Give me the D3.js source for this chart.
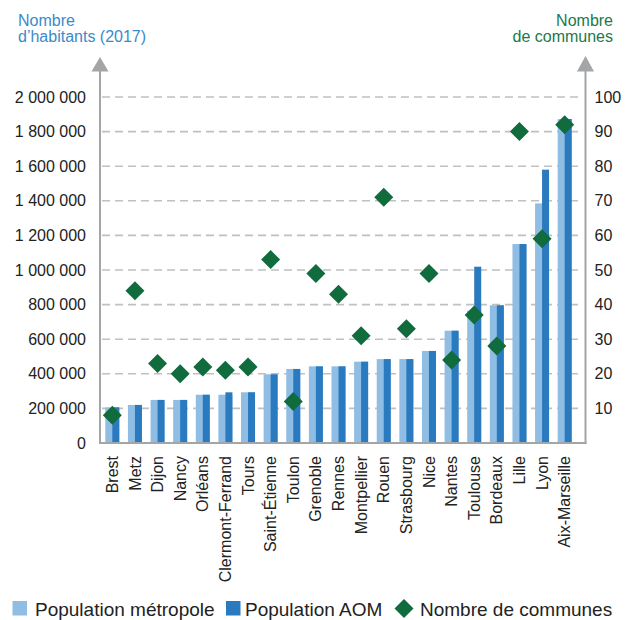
<!DOCTYPE html>
<html>
<head>
<meta charset="utf-8">
<script src="https://cdn.jsdelivr.net/npm/d3@7"></script>
<style>
  html, body { margin: 0; padding: 0; background: #fff; }
  svg { display: block; font-family: "Liberation Sans", Arial, sans-serif; }
</style>
</head>
<body>
<svg id="chart" width="629" height="620"></svg>
<script>
const cities = ["Brest", "Metz", "Dijon", "Nancy", "Orléans", "Clermont-Ferrand", "Tours",
  "Saint-Étienne", "Toulon", "Grenoble", "Rennes", "Montpellier", "Rouen", "Strasbourg",
  "Nice", "Nantes", "Toulouse", "Bordeaux", "Lille", "Lyon", "Aix-Marseille"];
const popMetropole = [206000, 220000, 249000, 249000, 279000, 279000, 293000, 397000, 428000,
  443000, 443000, 470000, 485000, 485000, 532000, 649000, 765000, 796000, 1150000, 1385000, 1873000];
const popAOM = [206000, 220000, 249000, 249000, 279000, 293000, 293000, 397000, 428000,
  443000, 443000, 470000, 485000, 485000, 532000, 649000, 1019000, 796000, 1150000, 1580000, 1873000];
const nbCommunes = [8, 44, 23, 20, 22, 21, 22, 53, 12, 49, 43, 31, 71, 33, 49, 24, 37, 28, 90, 59, 92];
const leftTicks = [0, 200000, 400000, 600000, 800000, 1000000, 1200000, 1400000, 1600000, 1800000, 2000000];
const rightTicks = [10, 20, 30, 40, 50, 60, 70, 80, 90, 100];
const seriesNames = ["Population métropole", "Population AOM", "Nombre de communes"];

const colLight = "#8fbde3", colDark = "#2a7abf", colGreen = "#106b3d";
const colAxis = "#a3a5a7", colGrid = "#bfc0c1";

const svg = d3.select("#chart");
svg.append("rect").attr("width", 629).attr("height", 620).attr("fill", "#fff");

const xLeft = 100, xRight = 585.5, yBottom = 443, yTop = 97;
const x = d3.scaleBand().domain(cities).range([101, 576]);
const yL = d3.scaleLinear().domain([0, 2000000]).range([yBottom, yTop]);
const yR = d3.scaleLinear().domain([0, 100]).range([yBottom, yTop]);
const fr = d3.formatLocale({ decimal: ",", thousands: " ", grouping: [3], currency: ["", ""] }).format(",d");

// gridlines
svg.append("g").selectAll("line").data(leftTicks.filter(d => d > 0)).join("line")
  .attr("x1", xLeft + 2).attr("x2", 580)
  .attr("y1", d => yL(d)).attr("y2", d => yL(d))
  .attr("stroke", colGrid).attr("stroke-width", 1.6).attr("stroke-dasharray", "8,5");

// bars
const cx = c => x(c) + x.bandwidth() / 2;
svg.append("g").selectAll("rect").data(cities).join("rect")
  .attr("x", d => cx(d) - 7).attr("width", 14)
  .attr("y", (d, i) => yL(popMetropole[i])).attr("height", (d, i) => yBottom - yL(popMetropole[i]))
  .attr("fill", colLight);
svg.append("g").selectAll("rect").data(cities).join("rect")
  .attr("x", d => cx(d)).attr("width", 7)
  .attr("y", (d, i) => yL(popAOM[i])).attr("height", (d, i) => yBottom - yL(popAOM[i]))
  .attr("fill", colDark);

// axes lines
const axes = svg.append("g").attr("stroke", colAxis).attr("stroke-width", 2).attr("fill", "none");
axes.append("line").attr("x1", xLeft).attr("x2", xLeft).attr("y1", 70).attr("y2", yBottom + 1);
axes.append("line").attr("x1", xRight).attr("x2", xRight).attr("y1", 70).attr("y2", yBottom + 1);
axes.append("line").attr("x1", xLeft - 1).attr("x2", xRight + 1).attr("y1", yBottom).attr("y2", yBottom);
svg.append("path").attr("d", `M${xLeft - 8.5},71.5 L${xLeft},57 L${xLeft + 8.5},71.5 Z`).attr("fill", colAxis);
svg.append("path").attr("d", `M${xRight - 8.5},71.5 L${xRight},56 L${xRight + 8.5},71.5 Z`).attr("fill", colAxis);

// diamonds
const diamond = "M0,-9.5 L9.5,0 L0,9.5 L-9.5,0 Z";
svg.append("g").selectAll("path").data(cities).join("path")
  .attr("transform", (d, i) => `translate(${cx(d)},${yR(nbCommunes[i])})`)
  .attr("d", diamond).attr("fill", colGreen);

// left tick labels
const gl = svg.append("g").attr("transform", `translate(${xLeft},0)`)
  .call(d3.axisLeft(yL).tickValues(leftTicks).tickFormat(fr).tickSize(0).tickPadding(14));
gl.select(".domain").remove();
gl.selectAll("text").attr("font-size", 16).attr("fill", "#222").attr("font-family", "Liberation Sans, Arial, sans-serif");

// right tick labels
const gr = svg.append("g").attr("transform", `translate(${xRight},0)`)
  .call(d3.axisRight(yR).tickValues(rightTicks).tickSize(0).tickPadding(9));
gr.select(".domain").remove();
gr.selectAll("text").attr("font-size", 16).attr("fill", "#222").attr("font-family", "Liberation Sans, Arial, sans-serif");

// x labels
svg.append("g").selectAll("text").data(cities).join("text")
  .attr("transform", d => `translate(${cx(d)},456) rotate(-90)`)
  .attr("text-anchor", "end").attr("dy", "0.35em")
  .attr("font-size", 16).attr("fill", "#222").text(d => d);

// axis titles
const tl = svg.append("text").attr("fill", "#3b8ac9").attr("font-size", 16);
tl.append("tspan").attr("x", 18).attr("y", 26).text("Nombre");
tl.append("tspan").attr("x", 18).attr("y", 42).text("d’habitants (2017)");
const tr = svg.append("text").attr("fill", "#1b7a47").attr("font-size", 16).attr("text-anchor", "end");
tr.append("tspan").attr("x", 613).attr("y", 26).text("Nombre");
tr.append("tspan").attr("x", 613).attr("y", 42).text("de communes");

// legend
const lg = svg.append("g").attr("font-size", 19).attr("fill", "#222");
lg.append("rect").attr("x", 12.5).attr("y", 601).attr("width", 14.5).attr("height", 14.5).attr("fill", colLight);
lg.append("text").attr("x", 35).attr("y", 615.5).text(seriesNames[0]);
lg.append("rect").attr("x", 226).attr("y", 601).attr("width", 14.5).attr("height", 14.5).attr("fill", colDark);
lg.append("text").attr("x", 245).attr("y", 615.5).text(seriesNames[1]);
lg.append("path").attr("transform", "translate(404,608.5)").attr("d", diamond).attr("fill", colGreen);
lg.append("text").attr("x", 420).attr("y", 615.5).text(seriesNames[2]);
</script>
</body>
</html>
